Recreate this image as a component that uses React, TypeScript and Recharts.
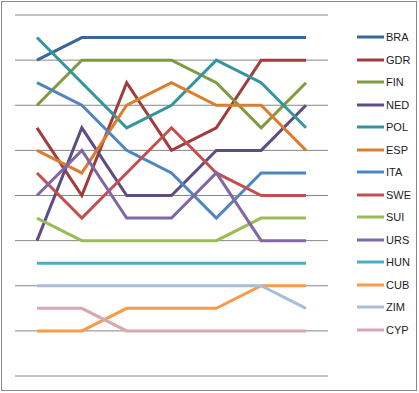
import React from "react";
import { CartesianGrid, Line, LineChart, XAxis, YAxis } from "recharts";

// seven snapshots, rank of each team (1 = top)
const periods = ["1", "2", "3", "4", "5", "6", "7"];

const BRA = [2, 1, 1, 1, 1, 1, 1];
const GDR = [5, 8, 3, 6, 5, 2, 2];
const FIN = [4, 2, 2, 2, 3, 5, 3];
const NED = [10, 5, 8, 8, 6, 6, 4];
const POL = [1, 3, 5, 4, 2, 3, 5];
const ESP = [6, 7, 4, 3, 4, 4, 6];
const ITA = [3, 4, 6, 7, 9, 7, 7];
const SWE = [7, 9, 7, 5, 7, 8, 8];
const SUI = [9, 10, 10, 10, 10, 9, 9];
const URS = [8, 6, 9, 9, 7, 10, 10];
const HUN = [11, 11, 11, 11, 11, 11, 11];
const CUB = [14, 14, 13, 13, 13, 12, 12];
const ZIM = [12, 12, 12, 12, 12, 12, 13];
const CYP = [13, 13, 14, 14, 14, 14, 14];

const rankTicks = [0, 2, 4, 6, 8, 10, 12, 14, 16];

const SERIES = [
  { key: "BRA", values: BRA, color: "#3b6698" },
  { key: "GDR", values: GDR, color: "#a03c3c" },
  { key: "FIN", values: FIN, color: "#7f9a41" },
  { key: "NED", values: NED, color: "#5e4d82" },
  { key: "POL", values: POL, color: "#35959f" },
  { key: "ESP", values: ESP, color: "#db7d2e" },
  { key: "ITA", values: ITA, color: "#4f86c0" },
  { key: "SWE", values: SWE, color: "#c3504e" },
  { key: "SUI", values: SUI, color: "#9bbb59" },
  { key: "URS", values: URS, color: "#8068a6" },
  { key: "HUN", values: HUN, color: "#4aaec4" },
  { key: "CUB", values: CUB, color: "#f79a4a" },
  { key: "ZIM", values: ZIM, color: "#a9bcd8" },
  { key: "CYP", values: CYP, color: "#d6a8b0" },
];

const data = periods.map((p, i) => {
  const row: Record<string, string | number> = { period: p };
  SERIES.forEach((s) => {
    row[s.key] = s.values[i];
  });
  return row;
});

function RankLegend() {
  return (
    <div style={{ position: "absolute", left: 356, top: 26, width: 60 }}>
      {SERIES.map((s) => (
        <div key={s.key} style={{ display: "flex", alignItems: "center", height: 22.5 }}>
          <svg width={29} height={6}>
            <line x1={1} y1={3} x2={28} y2={3} stroke={s.color} strokeWidth={3} />
          </svg>
          <span style={{ fontSize: 11, color: "#222", marginLeft: 1 }}>{s.key}</span>
        </div>
      ))}
    </div>
  );
}

export default function App() {
  return (
    <div
      style={{
        position: "absolute",
        left: 0,
        top: 0,
        width: 419,
        height: 393,
        background: "#fff",
        fontFamily: "'Liberation Sans', Arial, sans-serif",
      }}
    >
      <div
        style={{
          position: "absolute",
          left: 1,
          top: 1,
          width: 414,
          height: 388,
          border: "1px solid #8a8a8a",
        }}
      />
      <LineChart
        width={419}
        height={393}
        data={data}
        margin={{ top: 15, right: 91, bottom: 17, left: 15 }}
        style={{ position: "absolute", left: 0, top: 0 }}
      >
        <CartesianGrid vertical={false} stroke="#868686" strokeWidth={1} />
        <XAxis dataKey="period" hide padding={{ left: 22, right: 22 }} />
        <YAxis type="number" domain={[0, 16]} ticks={rankTicks} reversed hide />
        {SERIES.map((s) => (
          <Line
            key={s.key}
            dataKey={s.key}
            name={s.key}
            type="linear"
            stroke={s.color}
            strokeWidth={3}
            dot={false}
            activeDot={false}
            isAnimationActive={false}
          />
        ))}
      </LineChart>
      <RankLegend />
    </div>
  );
}
